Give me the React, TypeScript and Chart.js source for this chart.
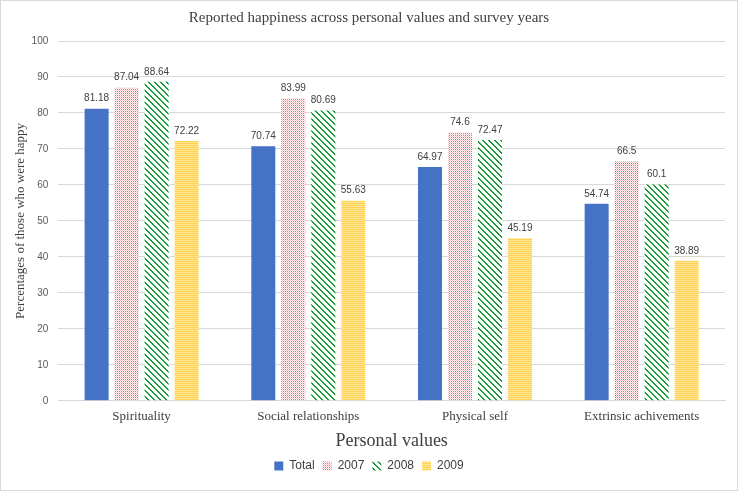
import React, { useEffect, useRef } from "react";
import { Chart, registerables } from "chart.js";

Chart.register(...registerables);

const categories = ["Spirituality", "Social relationships", "Physical self", "Extrinsic achivements"];
const seriesNames = ["Total", "2007", "2008", "2009"];
const totalValues = [81.18, 70.74, 64.97, 54.74];
const values2007 = [87.04, 83.99, 74.6, 66.5];
const values2008 = [88.64, 80.69, 72.47, 60.1];
const values2009 = [72.22, 55.63, 45.19, 38.89];
const yTicks = [0, 10, 20, 30, 40, 50, 60, 70, 80, 90, 100];

function makeTile(w: number, h: number, paint: (x: number, y: number) => string | null, bg: string) {
  const c = document.createElement("canvas");
  c.width = w;
  c.height = h;
  const ctx = c.getContext("2d")!;
  ctx.fillStyle = bg;
  ctx.fillRect(0, 0, w, h);
  for (let y = 0; y < h; y++) {
    for (let x = 0; x < w; x++) {
      const col = paint(x, y);
      if (col) {
        ctx.fillStyle = col;
        ctx.fillRect(x, y, 1, 1);
      }
    }
  }
  return ctx.createPattern(c, "repeat")!;
}

const dataLabelPlugin = {
  id: "dataLabels",
  afterDatasetsDraw(chart: any) {
    const ctx = chart.ctx;
    ctx.save();
    ctx.font = "10px 'Liberation Sans', Arial, sans-serif";
    ctx.fillStyle = "#404040";
    ctx.textAlign = "center";
    ctx.textBaseline = "bottom";
    chart.data.datasets.forEach((ds: any, i: number) => {
      const meta = chart.getDatasetMeta(i);
      meta.data.forEach((bar: any, j: number) => {
        ctx.fillText(String(ds.data[j]), bar.x, bar.y - 5);
      });
    });
    ctx.restore();
  },
};

export default function App() {
  const ref = useRef<HTMLCanvasElement>(null);
  useEffect(() => {
    document.body.style.margin = "0";
    const red = makeTile(2, 2, (x, y) => (x === 0 && y === 0 ? "#EC6A6A" : x === 1 && y === 1 ? "#F8C0C0" : null), "#FFFFFF");
    const green = makeTile(6, 6, (x, y) => { const d = ((x - y) % 6 + 6) % 6; return d < 2 ? "#1B9A3A" : null; }, "#FFFFFF");
    const yellow = makeTile(1, 2, (x, y) => (y === 0 ? "#FFD155" : "#FFE694"), "#FFFFFF");
    const fills = ["#4472C4", red, green, yellow];
    const data = [totalValues, values2007, values2008, values2009];
    const chart = new Chart(ref.current!, {
      type: "bar",
      data: {
        labels: categories,
        datasets: seriesNames.map((n, i) => ({
          label: n,
          data: data[i],
          backgroundColor: fills[i] as any,
          borderWidth: 0,
          barPercentage: 0.8,
          categoryPercentage: 0.72,
        })),
      },
      plugins: [dataLabelPlugin],
      options: {
        animation: false,
        responsive: false,
        maintainAspectRatio: false,
        layout: { padding: { left: 12, right: 12, top: 8, bottom: 8 } },
        plugins: {
          title: {
            display: true,
            text: "Reported happiness across personal values and survey years",
            color: "#404040",
            font: { family: "'Liberation Serif', 'Times New Roman', serif", size: 15, weight: "normal" },
            padding: { top: 0, bottom: 14 },
          },
          legend: {
            position: "bottom",
            labels: {
              color: "#404040",
              font: { family: "'Liberation Sans', Arial, sans-serif", size: 12 },
              boxWidth: 9,
              boxHeight: 9,
              padding: 8,
            },
          },
          tooltip: { enabled: false },
        },
        scales: {
          x: {
            grid: { display: false },
            border: { color: "#D9D9D9" },
            ticks: {
              color: "#404040",
              font: { family: "'Liberation Serif', 'Times New Roman', serif", size: 13 },
              padding: 0,
            },
            title: {
              display: true,
              text: "Personal values",
              color: "#404040",
              font: { family: "'Liberation Serif', 'Times New Roman', serif", size: 18 },
              padding: { top: 6, bottom: 0 },
            },
          },
          y: {
            min: 0,
            max: 100,
            afterBuildTicks: (axis: any) => { axis.ticks = yTicks.map((v) => ({ value: v })); },
            grid: { color: "#D9D9D9", drawTicks: false },
            border: { display: false },
            ticks: {
              color: "#595959",
              font: { family: "'Liberation Sans', Arial, sans-serif", size: 10 },
              padding: 10,
            },
            title: {
              display: true,
              text: "Percentages of those who were happy",
              color: "#404040",
              font: { family: "'Liberation Serif', 'Times New Roman', serif", size: 13 },
              padding: { top: 0, bottom: -7 },
            },
          },
        },
      },
    });
    return () => chart.destroy();
  }, []);
  return (
    <div style={{ position: "absolute", left: 0, top: 0, width: 738, height: 491, boxSizing: "border-box", border: "1px solid #D9D9D9", background: "#fff" }}>
      <canvas ref={ref} width={736} height={489} style={{ display: "block" }} />
    </div>
  );
}
